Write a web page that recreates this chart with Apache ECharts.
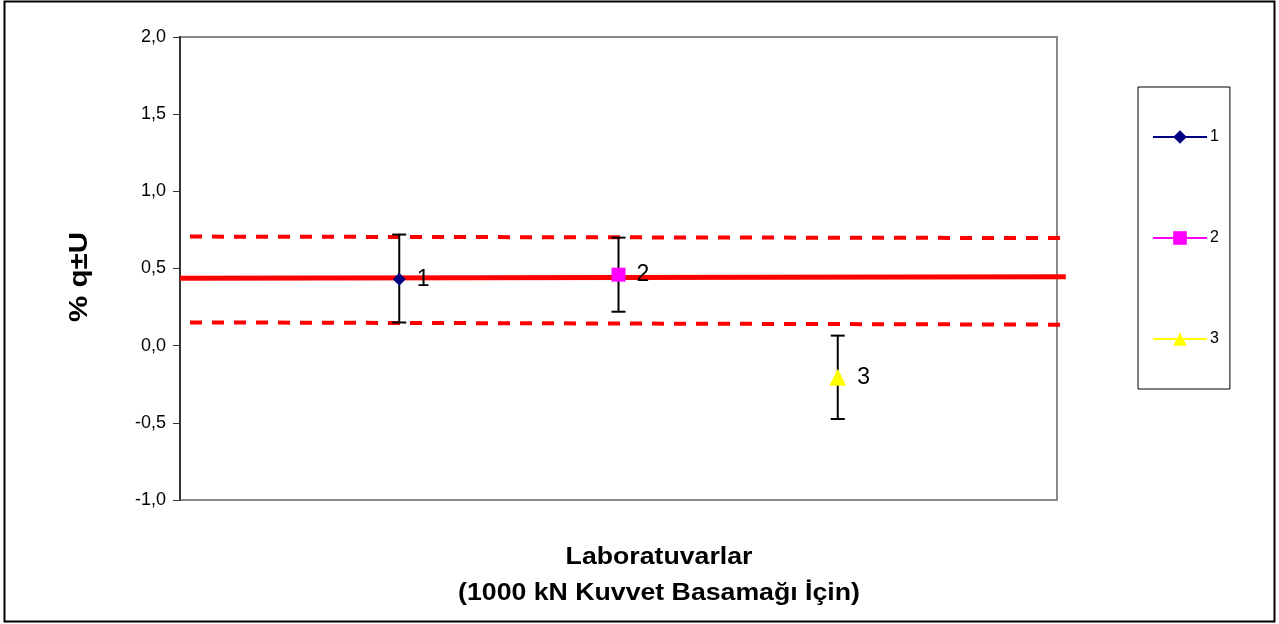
<!DOCTYPE html>
<html>
<head>
<meta charset="utf-8">
<script src="https://cdn.jsdelivr.net/npm/echarts@6/dist/echarts.min.js"></script>
<style>
html,body{margin:0;padding:0;background:#fff;}
#c{width:1279px;height:624px;}
</style>
</head>
<body>
<div id="c"></div>
<script>
// Data
const labs = ['1', '2', '3'];
const labX = [1, 2, 3];
const labMean = [0.43, 0.46, -0.205];
const labUpper = [0.72, 0.70, 0.065];
const labLower = [0.15, 0.22, -0.475];
const labColors = ['#000080', '#FF00FF', '#FFFF00'];
const labSymbols = ['diamond', 'rect', 'triangle'];
const refX = [0, 4.04];
const refMean = [0.4375, 0.447];
const refUpper = [0.707, 0.697];
const refLower = [0.151, 0.136];
const xTitle1 = 'Laboratuvarlar';
const xTitle2 = '(1000 kN Kuvvet Basamağı İçin)';
const yTitle = '% q±U';

const FONT = 'Liberation Sans, Arial, sans-serif';
const chart = echarts.init(document.getElementById('c'), null, {renderer: 'canvas'});

const series = [];
// reference lines (drawn through the axes, allowed to run past the plot edge)
function refLine(vals, dash, width) {
  return {
    type: 'custom', silent: true, clip: false, z: 2,
    data: [[refX[0], vals[0], refX[1], vals[1]]],
    renderItem: function (params, api) {
      const p0 = api.coord([api.value(0), api.value(1)]);
      const p1 = api.coord([api.value(2), api.value(3)]);
      return {
        type: 'line',
        shape: {x1: p0[0], y1: p0[1], x2: p1[0], y2: p1[1]},
        style: {stroke: '#FF0000', lineWidth: width, lineDash: dash, lineDashOffset: dash ? -10 : 0}
      };
    }
  };
}
series.push(refLine(refMean, null, 5));
series.push(refLine(refUpper, [12, 10], 4));
series.push(refLine(refLower, [12, 10], 4));

// error bars
series.push({
  type: 'custom', silent: true, z: 3,
  data: labs.map((l, i) => [labX[i], labLower[i], labUpper[i]]),
  renderItem: function (params, api) {
    const x = api.value(0);
    const lo = api.coord([x, api.value(1)]);
    const hi = api.coord([x, api.value(2)]);
    const cap = 7;
    const st = {stroke: '#000', lineWidth: 2};
    return {
      type: 'group',
      children: [
        {type: 'line', shape: {x1: lo[0], y1: lo[1], x2: hi[0], y2: hi[1]}, style: st},
        {type: 'line', shape: {x1: lo[0] - cap, y1: lo[1], x2: lo[0] + cap, y2: lo[1]}, style: st},
        {type: 'line', shape: {x1: hi[0] - cap, y1: hi[1], x2: hi[0] + cap, y2: hi[1]}, style: st}
      ]
    };
  }
});

// lab points
labs.forEach((l, i) => {
  series.push({
    name: l, type: 'line', z: 5,
    data: [[labX[i], labMean[i]]],
    symbol: labSymbols[i],
    symbolSize: labSymbols[i] === 'rect' ? 14 : (labSymbols[i] === 'triangle' ? 17 : 13),
    itemStyle: {color: labColors[i]},
    lineStyle: {color: labColors[i], width: 2},
    label: {
      show: true, position: 'right', distance: 11,
      formatter: l, color: '#000', fontSize: 23, fontFamily: FONT
    }
  });
});

chart.setOption({
  animation: false,
  backgroundColor: '#fff',
  textStyle: {fontFamily: FONT},
  grid: {
    left: 180, right: 222, top: 37, bottom: 124,
    show: true, borderColor: '#888', borderWidth: 2, backgroundColor: 'transparent'
  },
  xAxis: {
    type: 'value', min: 0, max: 4,
    axisLine: {show: false},
    axisTick: {show: false},
    axisLabel: {show: false},
    splitLine: {show: false}
  },
  yAxis: {
    type: 'value', min: -1, max: 2, interval: 0.5,
    axisLine: {show: true, onZero: false, lineStyle: {color: '#333', width: 2}},
    axisTick: {show: true, length: 7, lineStyle: {color: '#333', width: 1}},
    axisLabel: {
      fontSize: 18, color: '#000', margin: 14, fontFamily: FONT,
      formatter: v => v.toFixed(1).replace('.', ',')
    },
    splitLine: {show: false}
  },
  legend: {
    data: labs,
    orient: 'vertical',
    left: 1138, top: 87,
    padding: [42, 11, 42, 14],
    itemWidth: 54, itemHeight: 17, itemGap: 85,
    borderColor: '#000', borderWidth: 1,
    textStyle: {fontSize: 16, color: '#000', fontFamily: FONT, padding: [0, 0, 0, -2]},
    selectedMode: false
  },
  graphic: [
    {
      type: 'rect', silent: true, z: 100,
      shape: {x: 4.5, y: 1.5, width: 1270, height: 620},
      style: {fill: 'none', stroke: '#000', lineWidth: 2}
    },
    {
      type: 'text', silent: true, x: 659, y: 558, scaleX: 1.16,
      style: {text: xTitle1, fontSize: 23, fontWeight: 'bold', fontFamily: FONT, fill: '#000',
        align: 'center', verticalAlign: 'middle'}
    },
    {
      type: 'text', silent: true, x: 659, y: 594, scaleX: 1.16,
      style: {text: xTitle2, fontSize: 23, fontWeight: 'bold', fontFamily: FONT, fill: '#000',
        align: 'center', verticalAlign: 'middle'}
    },
    {
      type: 'text', silent: true, x: 80, y: 277, rotation: Math.PI / 2, scaleX: 1.18,
      style: {text: yTitle, fontSize: 25, fontWeight: 'bold', fontFamily: FONT, fill: '#000',
        align: 'center', verticalAlign: 'middle'}
    }
  ],
  series: series
});
</script>
</body>
</html>
